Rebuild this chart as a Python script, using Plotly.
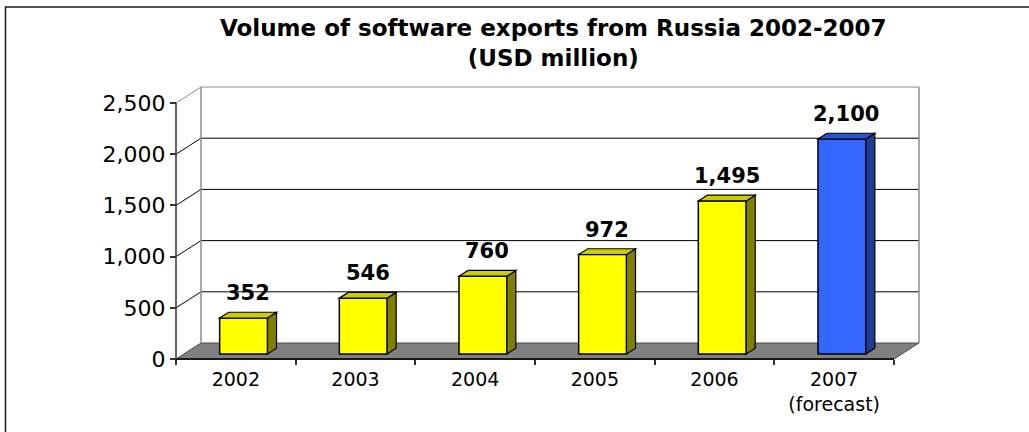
import plotly.graph_objects as go

# ---- data -------------------------------------------------------------
years = ["2002", "2003", "2004", "2005", "2006", "2007"]
exports_musd = [352, 546, 760, 972, 1495, 2100]
is_forecast = [False, False, False, False, False, True]
y_ticks = [0, 500, 1000, 1500, 2000, 2500]

# ---- page / projection geometry (pixels) ------------------------------
W, H = 1029, 432
X_LEFT_PX = 176          # front-left corner of the floor (category -0.5)
CAT_PX = 718 / 6         # width of one category along the front edge
ZERO_PX = 359            # front baseline (value 0)
UNIT_PX = 256 / 2500     # pixels per USD million
DEPTH_PX = (25, 16)      # oblique offset from front edge to back wall

DX = DEPTH_PX[0] / CAT_PX        # depth offset in x-axis units
DY = DEPTH_PX[1] / UNIT_PX       # depth offset in y-axis units

# plotting rectangle and the paper area around it
PA_L, PA_R, PA_T, PA_B = 172, 922, 84, 362
PAPER_L, PAPER_R, PAPER_T, PAPER_B = 150, 922, 84, 372
pw, ph = PAPER_R - PAPER_L, PAPER_B - PAPER_T

x_range = [-0.5 - (X_LEFT_PX - PA_L) / CAT_PX, -0.5 + (PA_R - X_LEFT_PX) / CAT_PX]
y_range = [-(PA_B - ZERO_PX) / UNIT_PX, (ZERO_PX - PA_T) / UNIT_PX]


def paper_x(px):
    return (px - PAPER_L) / pw


def paper_y(py):
    return (PAPER_B - py) / ph


# ---- colours ----------------------------------------------------------
YELLOW, YELLOW_TOP, YELLOW_SIDE = "#FFFF00", "#CCCC00", "#808000"
BLUE, BLUE_TOP, BLUE_SIDE = "#3366FF", "#2952CC", "#1F3A8F"
FLOOR = "#808080"
WALL_EDGE = "#8c8c8c"
GRID = "#000000"
AXIS = "#333333"

FONT = "DejaVu Sans"

# ---- bar placement inside the depth of the box ------------------------
F0, FD = 0.31, 0.36      # start and thickness of bars as fraction of depth
BAR_W = 0.4
bar_x = [i + F0 * DX for i in range(len(years))]
bar_base = F0 * DY
bdx, bdy = FD * DX, FD * DY

fig = go.Figure()

fig.add_bar(
    x=bar_x,
    y=exports_musd,
    base=bar_base,
    width=BAR_W,
    marker=dict(
        color=[BLUE if f else YELLOW for f in is_forecast],
        line=dict(color="black", width=1.5),
    ),
    hoverinfo="skip",
    showlegend=False,
)

shapes = []

# floor
shapes.append(dict(
    type="path", layer="below",
    path=(f"M {-0.5},0 L {5.5},0 L {5.5 + DX},{DY} L {-0.5 + DX},{DY} Z"),
    fillcolor=FLOOR, line=dict(color="#4d4d4d", width=1),
))

# back wall: gridlines, edges and the oblique connectors on the side wall
for v in y_ticks[1:]:
    col = WALL_EDGE if v == y_ticks[-1] else GRID
    shapes.append(dict(type="line", layer="below",
                       x0=-0.5 + DX, x1=5.5 + DX, y0=v + DY, y1=v + DY,
                       line=dict(color=col, width=1)))
    shapes.append(dict(type="line", layer="below",
                       x0=-0.5, x1=-0.5 + DX, y0=v, y1=v + DY,
                       line=dict(color=col, width=1)))
for xe in (-0.5 + DX, 5.5 + DX):
    shapes.append(dict(type="line", layer="below",
                       x0=xe, x1=xe, y0=DY, y1=y_ticks[-1] + DY,
                       line=dict(color=WALL_EDGE, width=1.5)))

# side and top faces of the bars
for x, v, f in zip(bar_x, exports_musd, is_forecast):
    xl, xr = x - BAR_W / 2, x + BAR_W / 2
    y0, y1 = bar_base, bar_base + v
    shapes.append(dict(
        type="path", layer="above",
        path=f"M {xr},{y0} L {xr + bdx},{y0 + bdy} L {xr + bdx},{y1 + bdy} L {xr},{y1} Z",
        fillcolor=BLUE_SIDE if f else YELLOW_SIDE,
        line=dict(color="black", width=1.2),
    ))
    shapes.append(dict(
        type="path", layer="above",
        path=f"M {xl},{y1} L {xl + bdx},{y1 + bdy} L {xr + bdx},{y1 + bdy} L {xr},{y1} Z",
        fillcolor=BLUE_TOP if f else YELLOW_TOP,
        line=dict(color="black", width=1.2),
    ))

# front axis lines
shapes.append(dict(type="line", layer="above", x0=-0.5, x1=-0.5, y0=0, y1=y_ticks[-1],
                   line=dict(color=AXIS, width=1.5)))
shapes.append(dict(type="line", layer="above", x0=-0.5, x1=5.5, y0=0, y1=0,
                   line=dict(color="#1a1a1a", width=2)))

# outer frame of the chart
shapes.append(dict(type="rect", xref="paper", yref="paper",
                   x0=paper_x(5.5), x1=paper_x(W + 20),
                   y0=paper_y(H + 20), y1=paper_y(7),
                   line=dict(color="#1a1a1a", width=1.5), fillcolor="rgba(0,0,0,0)"))

annotations = []

# value labels above each bar
for x, v in zip(bar_x, exports_musd):
    annotations.append(dict(
        x=x + bdx / 2, y=bar_base + v + bdy, xref="x", yref="y",
        text=f"<b>{v:,}</b>", showarrow=False, yanchor="middle", yshift=19,
        font=dict(family=FONT, size=21, color="black"),
    ))

# two-line title
annotations.append(dict(
    x=paper_x(553), y=paper_y(43), xref="paper", yref="paper",
    text="<b>Volume of software exports from Russia 2002-2007<br>(USD million)</b>",
    showarrow=False, xanchor="center", yanchor="middle", align="center",
    font=dict(family=FONT, size=23, color="black"),
))

tick_text = [f"{y}<br>(forecast)" if f else y for y, f in zip(years, is_forecast)]

fig.update_layout(
    width=W, height=H,
    margin=dict(l=PAPER_L, r=W - PAPER_R, t=PAPER_T, b=H - PAPER_B, pad=0),
    paper_bgcolor="white", plot_bgcolor="white",
    shapes=shapes, annotations=annotations,
    showlegend=False,
    xaxis=dict(
        range=x_range, domain=[(PA_L - PAPER_L) / pw, 1],
        anchor="free", position=paper_y(ZERO_PX),
        tickmode="array", tickvals=list(range(len(years))), ticktext=tick_text,
        ticks="", showgrid=False, zeroline=False, showline=False,
        ticklabelstandoff=7,
        tickfont=dict(family=FONT, size=19, color="black"),
        minor=dict(tickmode="array", tickvals=[i - 0.5 for i in range(len(years) + 1)],
                   ticks="outside", ticklen=5, tickwidth=1.5, tickcolor=AXIS,
                   showgrid=False),
        fixedrange=True,
    ),
    yaxis=dict(
        range=y_range, domain=[(PAPER_B - PA_B) / ph, 1],
        anchor="free", position=paper_x(X_LEFT_PX),
        tickmode="array", tickvals=y_ticks, ticktext=[f"{v:,}" for v in y_ticks],
        ticks="outside", ticklen=6, tickwidth=1.5, tickcolor=AXIS,
        showgrid=False, zeroline=False, showline=False,
        tickfont=dict(family=FONT, size=22, color="black"),
        fixedrange=True,
    ),
)

fig.write_html("out.html")
